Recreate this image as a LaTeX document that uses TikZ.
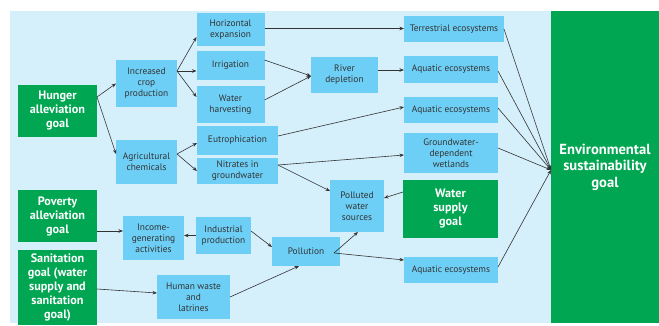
\documentclass[tikz,border=0pt]{standalone}
\usepackage{fontspec}
\usetikzlibrary{arrows.meta}
\newfontfamily\diagfont{PT Sans}

\definecolor{panelblue}{HTML}{D5EFFB}
\definecolor{boxblue}{HTML}{6DCFF6}
\definecolor{goalgreen}{HTML}{00A651}
\definecolor{inkgray}{HTML}{333333}

\tikzset{
    flow box/.style={
      fill=boxblue,
      text=inkgray,
      inner sep=0pt,
      outer sep=0pt,
      align=center,
      font=\diagfont\fontsize{9.4}{11}\selectfont
    },
    goal box/.style={
      fill=goalgreen,
      text=white,
      inner sep=0pt,
      outer sep=0pt,
      align=center,
      font=\diagfont\bfseries\fontsize{12.2}{14}\selectfont
    },
    flow arrow/.style={
      draw=inkgray,
      line width=0.6pt,
      -{Stealth[length=4.5pt,width=3.5pt]}
    }
  }

\begin{document}
\begin{tikzpicture}[x=1pt,y=-1pt]
      \useasboundingbox (0,0) rectangle (659,325);

      % 背景
      \fill[panelblue] (10,11) rectangle (659,323);

      % 目標
      \node[goal box, minimum width=79pt, minimum height=52pt] (hunger) at (57.5,111) {Hunger\\alleviation\\goal};
      \node[goal box, minimum width=79pt, minimum height=52pt] (poverty) at (57.5,216) {Poverty\\alleviation\\goal};
      \node[goal box, minimum width=79pt, minimum height=75pt] (sanit) at (57.5,287.5) {Sanitation\\goal (water\\supply and\\sanitation\\goal)};
      \node[goal box, minimum width=95pt, minimum height=58pt] (watersup) at (450.5,209) {Water\\supply\\goal};
      \node[goal box, minimum width=108pt, minimum height=312pt,
            font=\diagfont\bfseries\fontsize{14.6}{16.5}\selectfont] (env) at (605,167) {Environmental\\sustainability\\goal};

      % 中間の箱
      \node[flow box, minimum width=61pt, minimum height=47pt] (crop) at (146.5,83.5) {Increased\\crop\\production};
      \node[flow box, minimum width=61pt, minimum height=44pt] (agri) at (146.5,162) {Agricultural\\chemicals};
      \node[flow box, minimum width=68pt, minimum height=33pt] (horiz) at (230.5,29.5) {Horizontal\\expansion};
      \node[flow box, minimum width=68pt, minimum height=29pt] (irrig) at (230.5,65.5) {Irrigation};
      \node[flow box, minimum width=68pt, minimum height=37pt] (harvest) at (230.5,104.5) {Water\\harvesting};
      \node[flow box, minimum width=81pt, minimum height=29pt] (eutro) at (237.5,140.5) {Eutrophication};
      \node[flow box, minimum width=81pt, minimum height=26pt] (nitrate) at (237.5,171) {Nitrates in\\groundwater};
      \node[flow box, minimum width=67pt, minimum height=36pt] (river) at (344.5,75) {River\\depletion};
      \node[flow box, minimum width=54pt, minimum height=52pt] (polluted) at (357,206) {Polluted\\water\\sources};
      \node[flow box, minimum width=68pt, minimum height=29pt] (pollution) at (306,251.5) {Pollution};
      \node[flow box, minimum width=61pt, minimum height=44pt] (income) at (153.5,238) {Income-\\generating\\activities};
      \node[flow box, minimum width=55pt, minimum height=37pt] (industrial) at (223.5,235.5) {Industrial\\production};
      \node[flow box, minimum width=73pt, minimum height=44pt] (human) at (193.5,297) {Human waste\\and\\latrines};

      % 生態系
      \node[flow box, minimum width=100pt, minimum height=26pt] (terr) at (454,29) {Terrestrial ecosystems};
      \node[flow box, minimum width=94pt, minimum height=27pt] (aqua1) at (451,69.5) {Aquatic ecosystems};
      \node[flow box, minimum width=94pt, minimum height=26pt] (aqua2) at (451,110) {Aquatic ecosystems};
      \node[flow box, minimum width=94pt, minimum height=40pt] (wetland) at (451,153) {Groundwater-\\dependent\\wetlands};
      \node[flow box, minimum width=94pt, minimum height=26pt] (aqua3) at (451,270) {Aquatic ecosystems};

      \coordinate (envhub) at ([yshift=-3pt]env.west);

      % 矢印
      \draw[flow arrow] ([yshift=14pt]hunger.east) -- (crop.west);
      \draw[flow arrow] ([yshift=14pt]hunger.east) -- ([yshift=8pt]agri.west);
      \draw[flow arrow] ([yshift=12.5pt]crop.east) -- ([yshift=-7.5pt]horiz.west);
      \draw[flow arrow] ([yshift=12.5pt]crop.east) -- ([yshift=-5.5pt]irrig.west);
      \draw[flow arrow] ([yshift=12.5pt]crop.east) -- ([yshift=7.5pt]harvest.west);
      \draw[flow arrow] ([yshift=8pt]agri.east) -- ([yshift=-2.5pt]eutro.west);
      \draw[flow arrow] ([yshift=8pt]agri.east) -- (nitrate.west);
      \draw[flow arrow] ([yshift=1pt]horiz.east) -- ([yshift=1pt]horiz.east -| terr.west);
      \draw[flow arrow] ([yshift=5.5pt]irrig.east) -- ([yshift=-1pt]river.west);
      \draw[flow arrow] ([yshift=4.5pt]harvest.east) -- ([yshift=-1pt]river.west);
      \draw[flow arrow] ([yshift=5pt]river.east) -- ([yshift=5pt]river.east -| aqua1.west);
      \draw[flow arrow] ([yshift=4.5pt]eutro.east) -- ([yshift=3pt]aqua2.west);
      \draw[flow arrow] ([yshift=6pt]nitrate.east) -- ([yshift=-2pt]wetland.west);
      \draw[flow arrow] ([yshift=6pt]nitrate.east) -- ([yshift=15pt]polluted.west);
      \draw[flow arrow] ([yshift=17pt]watersup.west) -- ([yshift=8pt]polluted.east);
      \draw[flow arrow] ([yshift=-15pt]poverty.east) -- ([yshift=-15pt]poverty.east -| income.west);
      \draw[flow arrow] (industrial.west) -- (industrial.west -| income.east);
      \draw[flow arrow] ([yshift=4.5pt]industrial.east) -- ([yshift=4.5pt]pollution.west);
      \draw[flow arrow] ([xshift=-6pt,yshift=-1.5pt]pollution.east) -- ([xshift=1pt]polluted.south);
      \draw[flow arrow] ([xshift=-6pt,yshift=-1.5pt]pollution.east) -- ([yshift=10pt]aqua3.west);
      \draw[flow arrow] ([yshift=-1.5pt]sanit.east) -- ([yshift=4pt]human.west);
      \draw[flow arrow] (human.east) -- ([xshift=-7pt]pollution.south);
      \draw[flow arrow] (terr.east) -- (envhub);
      \draw[flow arrow] ([yshift=-1.5pt]aqua1.east) -- (envhub);
      \draw[flow arrow] ([yshift=2pt]aqua2.east) -- (envhub);
      \draw[flow arrow] ([yshift=5pt]wetland.east) -- (envhub);
      \draw[flow arrow] ([yshift=3pt]aqua3.east) -- (envhub);
    \end{tikzpicture}
\end{document}
